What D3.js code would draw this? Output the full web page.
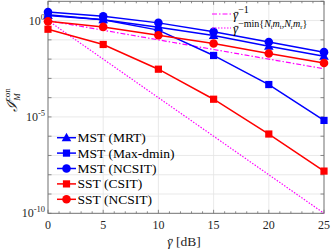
<!DOCTYPE html>
<html><head><meta charset="utf-8">
<script src="https://cdn.jsdelivr.net/npm/d3@7"></script>
<style>
body{margin:0;background:#fff;}
svg{display:block;font-family:"Liberation Serif","Times New Roman",serif;}
</style></head>
<body><svg id="c" width="332" height="249"></svg>
<script>
const snr = [0, 5, 10, 15, 20, 25];
const mstMRT = [1.86, 1.10, 0.45, 0.17, 0.047, 0.014];
const mstMaxdmin = [2.0, 1.1, 0.32, 0.0155, 4.8e-4, 6.6e-6];
const mstNCSIT = [2.8, 1.66, 0.76, 0.26, 0.078, 0.023];
const sstCSIT = [0.355, 0.0575, 3.0e-3, 8.3e-5, 1.3e-6, 1.55e-8];
const sstNCSIT = [0.91, 0.47, 0.174, 0.065, 0.0195, 6.3e-3];
const refInv = [1, 0.316, 0.1, 0.0316, 0.01, 0.00316];
const refDiv = [1, 1e-2, 1e-4, 1e-6, 1e-8, 1e-10];
const xTicks = [0, 5, 10, 15, 20, 25];
const yLabelExps = [0, -5, -10];

const svg = d3.select("#c");
const L = 48, R = 324, T = 1.3, B = 213.3;
const x = d3.scaleLinear().domain([0, 25]).range([L, R]);
const y = d3.scaleLog().domain([1e-10, 1e1]).range([B, T]);

// bar over the first character of a text element
function gammaBar(textSel, size) {
  const node = textSel.node();
  const ext = node.getExtentOfChar(0);
  const y0 = ext.y + ext.height * 0.36;
  svg.append("line").attr("x1", ext.x + size * 0.12).attr("x2", ext.x + ext.width + size * 0.02)
    .attr("y1", y0).attr("y2", y0).attr("stroke", textSel.attr("fill") || "#000").attr("stroke-width", size * 0.06);
}

// grid
const decades = d3.range(-10, 2).map(e => Math.pow(10, e));
svg.append("g").selectAll("line").data(decades).join("line")
  .attr("x1", L).attr("x2", R).attr("y1", d => y(d)).attr("y2", d => y(d))
  .attr("stroke", "#e3e3e3").attr("stroke-width", 0.8);
svg.append("g").selectAll("line").data(xTicks).join("line")
  .attr("x1", d => x(d)).attr("x2", d => x(d)).attr("y1", T).attr("y2", B)
  .attr("stroke", "#e3e3e3").attr("stroke-width", 0.8);

// axes frame
const axCol = "#6e6e6e";
svg.append("rect").attr("x", L).attr("y", T).attr("width", R - L).attr("height", B - T)
  .attr("fill", "none").attr("stroke", axCol).attr("stroke-width", 0.9);

// ticks
const minorX = d3.range(0, 26, 1);
const tk = svg.append("g").attr("stroke", axCol).attr("stroke-width", 0.8);
minorX.forEach(v => {
  const len = v % 5 === 0 ? 3.5 : 2;
  tk.append("line").attr("x1", x(v)).attr("x2", x(v)).attr("y1", B).attr("y2", B - len);
  tk.append("line").attr("x1", x(v)).attr("x2", x(v)).attr("y1", T).attr("y2", T + len);
});
decades.forEach(v => {
  tk.append("line").attr("x1", L).attr("x2", L + 3.5).attr("y1", y(v)).attr("y2", y(v));
  tk.append("line").attr("x1", R).attr("x2", R - 3.5).attr("y1", y(v)).attr("y2", y(v));
});

// tick labels
svg.append("g").selectAll("text").data(xTicks).join("text")
  .attr("x", d => x(d)).attr("y", 229).attr("text-anchor", "middle")
  .attr("font-size", 12).attr("fill", "#262626").text(d => d);
yLabelExps.forEach(e => {
  const t = svg.append("text").attr("x", 45).attr("y", y(Math.pow(10, e)) + 4)
    .attr("text-anchor", "end").attr("font-size", 12).attr("fill", "#262626");
  t.append("tspan").text("10");
  t.append("tspan").attr("dy", -5).attr("font-size", 8.5).text(e === 0 ? "0" : "-" + (-e));
});

// axis titles
const xt = svg.append("text").attr("x", 184).attr("y", 246).attr("text-anchor", "middle")
  .attr("font-size", 13.5).attr("fill", "#262626");
xt.append("tspan").attr("font-style", "italic").text("γ");
xt.append("tspan").text(" [dB]");
gammaBar(xt, 13.5);

const yt = svg.append("text").attr("transform", "translate(17,100) rotate(-90)")
  .attr("text-anchor", "middle").attr("font-size", 15).attr("fill", "#262626");
yt.append("tspan").attr("font-style", "italic").text("ℐ");
yt.append("tspan").attr("font-size", 9).attr("dy", 3).attr("font-style", "italic").text("M");
yt.append("tspan").attr("font-size", 9).attr("dy", -10).attr("dx", -8).text("con");

// data lines
const pts = arr => arr.map((v, i) => [snr[i], v]);
const line = d3.line().x(d => x(d[0])).y(d => y(d[1]));
const plot = svg.append("g");

plot.append("path").attr("d", line(pts(refInv))).attr("fill", "none")
  .attr("stroke", "#ff00ff").attr("stroke-width", 1.2).attr("stroke-dasharray", "5,2,1.5,2");
plot.append("path").attr("d", line(pts(refDiv))).attr("fill", "none")
  .attr("stroke", "#ff00ff").attr("stroke-width", 1.2).attr("stroke-dasharray", "1.5,1.5");

const series = [
  {name: "MST (MRT)", vals: mstMRT, col: "#0000ff", m: "tri"},
  {name: "MST (Max-dmin)", vals: mstMaxdmin, col: "#0000ff", m: "sq"},
  {name: "MST (NCSIT)", vals: mstNCSIT, col: "#0000ff", m: "circ"},
  {name: "SST (CSIT)", vals: sstCSIT, col: "#ff0000", m: "sq"},
  {name: "SST (NCSIT)", vals: sstNCSIT, col: "#ff0000", m: "circ"}
];
function marker(g, type, cx, cy, col) {
  if (type === "circ") g.append("circle").attr("cx", cx).attr("cy", cy).attr("r", 4.3).attr("fill", col);
  else if (type === "sq") g.append("rect").attr("x", cx - 3.6).attr("y", cy - 3.6).attr("width", 7.2).attr("height", 7.2).attr("fill", col);
  else g.append("path").attr("d", `M${cx},${cy - 5}L${cx + 4.8},${cy + 3.5}L${cx - 4.8},${cy + 3.5}Z`).attr("fill", col);
}
series.forEach(s => {
  plot.append("path").attr("d", line(pts(s.vals))).attr("fill", "none")
    .attr("stroke", s.col).attr("stroke-width", 1.5);
  pts(s.vals).forEach(p => marker(plot, s.m, x(p[0]), y(p[1]), s.col));
});

// legend bottom-left
const lg = svg.append("g");
series.forEach((s, i) => {
  const yy = 137.7 + i * 15.4;
  lg.append("line").attr("x1", 57).attr("x2", 76).attr("y1", yy).attr("y2", yy)
    .attr("stroke", s.col).attr("stroke-width", 1.5);
  marker(lg, s.m, 66.5, yy, s.col);
  lg.append("text").attr("x", 77.5).attr("y", yy + 4.5).attr("font-size", 13.5)
    .attr("fill", "#000").text(s.name);
});

// legend top-right
const lg2 = svg.append("g");
lg2.append("line").attr("x1", 212).attr("x2", 231).attr("y1", 14).attr("y2", 14)
  .attr("stroke", "#ff00ff").attr("stroke-width", 1.2).attr("stroke-dasharray", "5,2,1.5,2");
const t1 = lg2.append("text").attr("x", 233).attr("y", 19).attr("font-size", 13).attr("fill", "#000");
t1.append("tspan").attr("font-style", "italic").text("γ");
t1.append("tspan").attr("dy", -6).attr("font-size", 10).text("−1");
gammaBar(t1, 13);

lg2.append("line").attr("x1", 212).attr("x2", 231).attr("y1", 28).attr("y2", 28)
  .attr("stroke", "#ff00ff").attr("stroke-width", 1.2).attr("stroke-dasharray", "1.5,1.5");
const t2 = lg2.append("text").attr("x", 233).attr("y", 33).attr("font-size", 13).attr("fill", "#000");
t2.append("tspan").attr("font-style", "italic").text("γ");
const sup = (txt, dy, it) => t2.append("tspan").attr("dy", dy).attr("font-size", 10).attr("font-style", it ? "italic" : "normal").text(txt);
const sub = (txt, dy) => t2.append("tspan").attr("dy", dy).attr("font-size", 6.5).text(txt);
sup("−min{", -6, false); sup("N", 0, true); sub("t", 2); sup("m", -2, true); sub("t", 2);
sup(",", -2, false); sup("N", 0, true); sub("r", 2); sup("m", -2, true); sub("r", 2); sup("}", -2, false);
gammaBar(t2, 13);
</script>
</body></html>
